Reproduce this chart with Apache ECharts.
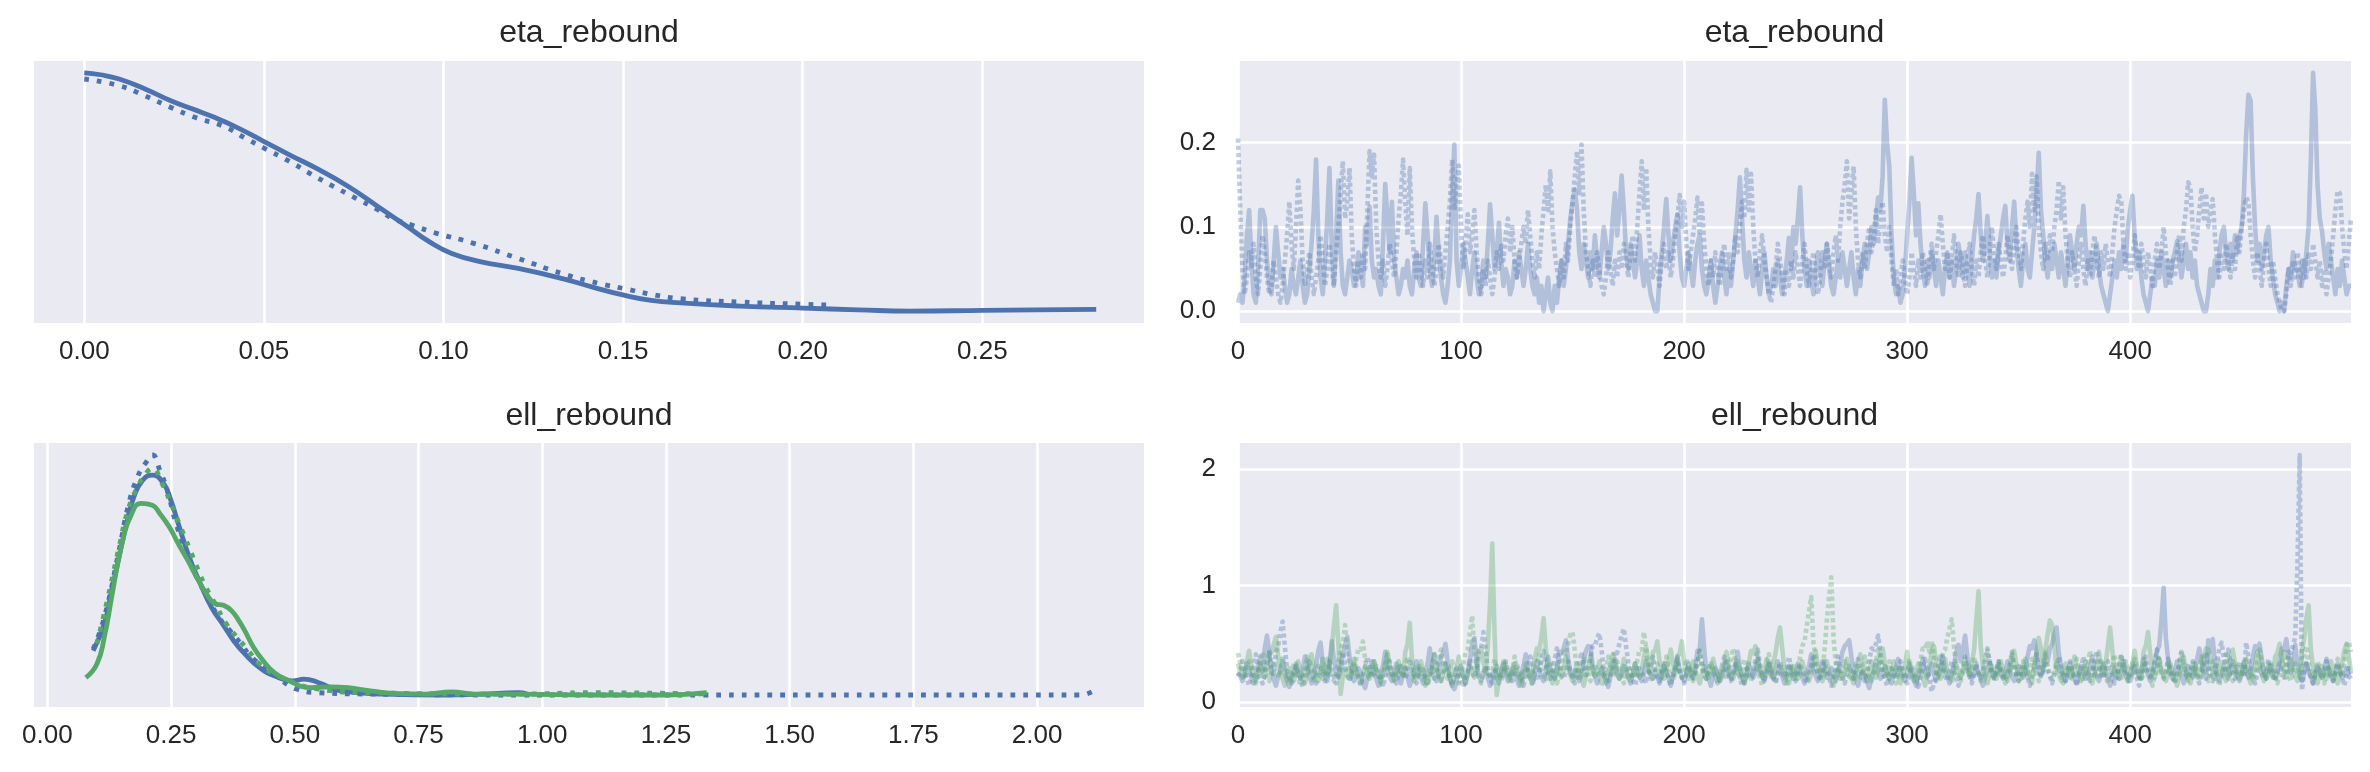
<!DOCTYPE html>
<html><head><meta charset="utf-8">
<script src="https://cdn.jsdelivr.net/npm/echarts@6/dist/echarts.min.js"></script>
<style>html,body{margin:0;padding:0;background:#fff}#c{width:2370px;height:772px}</style>
</head><body><div id="c"></div>
<script>
// ---------- titles & ticks ----------
const titles = ['eta_rebound', 'eta_rebound', 'ell_rebound', 'ell_rebound'];
const etaKdeTicks = [0, 0.05, 0.10, 0.15, 0.20, 0.25];
const ellKdeTicks = [0, 0.25, 0.5, 0.75, 1.0, 1.25, 1.5, 1.75, 2.0];
const drawTicks = [0, 100, 200, 300, 400];
const etaTraceTicks = [0, 0.1, 0.2];
const ellTraceTicks = [0, 1, 2];

// ---------- KDE: eta_rebound (chain 0 solid, chain 1 dotted) ----------
const etaKdeX0 = [0,0.0045,0.0097,0.0169,0.0241,0.0302,0.0364,0.0426,0.0498,0.057,0.0652,0.0734,0.0817,0.0899,0.096,0.1023,0.1105,0.1208,0.1331,0.1413,0.1502,0.1578,0.166,0.1825,0.2002,0.2154,0.2298,0.25,0.2648,0.2817];
const etaKdeY0 = [12.9,12.8,12.57,12.03,11.39,10.94,10.48,9.94,9.21,8.48,7.67,6.76,5.67,4.58,3.76,3.12,2.67,2.31,1.76,1.31,0.86,0.58,0.44,0.27,0.16,0.07,0.0,0.04,0.07,0.09];
const etaKdeX1 = [0,0.0097,0.0169,0.0241,0.031,0.0385,0.0446,0.0498,0.057,0.0633,0.0693,0.0755,0.0817,0.0858,0.091,0.0981,0.1084,0.1208,0.1331,0.1434,0.1502,0.1578,0.166,0.1825,0.2002,0.2072];
const etaKdeY1 = [12.57,12.21,11.66,11.03,10.48,10.03,9.39,8.85,8.12,7.40,6.76,6.12,5.49,5.03,4.67,4.21,3.67,2.85,2.03,1.49,1.22,0.91,0.67,0.49,0.37,0.33];

// ---------- KDE: ell_rebound (blue = dim 0, green = dim 1; solid chain 0, dotted chain 1) ----------
const ellKdeXA0 = [0.0926,0.115,0.1299,0.1449,0.1599,0.1748,0.1927,0.2121,0.2345,0.2495,0.2644,0.2868,0.3092,0.3316,0.354,0.3764,0.3989,0.4287,0.4586,0.496,0.5184,0.5483,0.5931,0.6827,0.8022,0.877,0.9516,0.9695];
const ellKdeYA0 = [0.97,1.56,2.29,3.02,3.76,4.34,4.71,4.82,4.64,4.27,3.76,3.02,2.44,1.92,1.56,1.19,0.90,0.60,0.42,0.31,0.35,0.27,0.09,0.02,0.0,0.02,0.05,0.02];
const ellKdeXA1 = [0.0926,0.115,0.1449,0.1629,0.1823,0.2002,0.2121,0.2271,0.242,0.26,0.2794,0.3018,0.3242,0.3466,0.369,0.3914,0.4138,0.4586,0.5035,0.5483,0.6529,0.9516,1.3251,1.6985,2.0868,2.1137];
const ellKdeYA1 = [1.01,1.70,3.17,4.12,4.78,5.11,5.26,4.93,4.49,3.76,3.17,2.58,2.14,1.70,1.41,1.12,0.82,0.46,0.13,0.05,0.02,0.0,0.0,0.0,0.0,0.09];
const ellKdeXB0 = [0.0777,0.1001,0.115,0.1299,0.1419,0.1524,0.1673,0.1897,0.2121,0.2271,0.2465,0.2644,0.2838,0.3018,0.3212,0.3391,0.357,0.372,0.3869,0.3989,0.4168,0.4362,0.4586,0.481,0.5333,0.5706,0.608,0.6529,0.7126,0.7649,0.8172,0.862,0.9516,1.101,1.2504,1.3325];
const ellKdeYB0 = [0.38,0.68,1.26,2.14,2.87,3.39,3.90,4.20,4.16,3.98,3.68,3.32,2.95,2.58,2.22,2.00,1.96,1.85,1.63,1.41,1.04,0.75,0.49,0.35,0.16,0.18,0.16,0.09,0.03,0.02,0.07,0.02,0.02,0.0,0.0,0.05];
const ellKdeXB1 = [0.1001,0.1225,0.1449,0.1629,0.1823,0.2017,0.2121,0.2316,0.2495,0.2719,0.2943,0.3167,0.3391,0.3615,0.3839,0.4063,0.4287,0.4735,0.5483,0.6529,0.9516,1.101,1.34];
const ellKdeYB1 = [1.12,2.14,3.24,4.05,4.56,4.89,4.97,4.64,4.20,3.61,3.02,2.44,2.00,1.56,1.26,0.97,0.68,0.38,0.13,0.05,0.02,0.05,0.02];

// ---------- Trace: eta_rebound, 500 draws per chain ----------
const etaTrace0 = [
.01,.02,.01,.04,.09,.12,.06,.02,.01,.05,.12,.12,.11,.06,.03,.02,.06,.10,.07,.04,.05,.03,.01,.02,.05,
.03,.02,.04,.06,.03,.01,.02,.05,.08,.12,.18,.09,.04,.02,.06,.11,.17,.08,.03,.09,.155,.07,.03,.02,.04,
.06,.05,.03,.04,.07,.05,.03,.10,.08,.124,.06,.04,.05,.03,.02,.08,.151,.11,.07,.13,.06,.04,.02,.03,.05,
.04,.06,.03,.02,.05,.07,.04,.03,.08,.128,.09,.05,.03,.06,.112,.07,.04,.02,.01,.03,.06,.14,.198,.06,.03,
.05,.08,.06,.04,.02,.05,.07,.04,.02,.03,.06,.04,.08,.127,.09,.05,.07,.105,.06,.03,.05,.04,.02,.03,.06,
.04,.07,.05,.03,.05,.08,.05,.03,.02,.04,.01,.03,.00,.02,.04,.01,.00,.03,.01,.04,.06,.03,.05,.08,.11,
.13,.145,.12,.07,.05,.08,.06,.04,.07,.05,.09,.06,.04,.07,.10,.08,.05,.07,.11,.14,.09,.12,.161,.12,.07,
.05,.08,.06,.04,.06,.09,.05,.03,.06,.04,.02,.01,.00,.00,.04,.07,.10,.133,.09,.06,.08,.10,.115,.07,.04,
.03,.05,.07,.05,.03,.06,.08,.09,.05,.03,.02,.04,.06,.03,.01,.03,.05,.07,.04,.02,.05,.03,.06,.09,.12,
.159,.11,.06,.04,.07,.05,.03,.06,.04,.02,.05,.07,.04,.02,.03,.05,.03,.06,.04,.02,.04,.06,.087,.05,.10,
.08,.11,.147,.09,.05,.03,.06,.04,.02,.05,.07,.05,.03,.06,.08,.05,.03,.02,.04,.06,.04,.07,.05,.03,.05,
.07,.04,.02,.05,.03,.06,.08,.05,.07,.10,.08,.11,.135,.12,.16,.251,.20,.172,.09,.04,.02,.03,.01,.02,.05,
.09,.13,.182,.14,.09,.128,.08,.05,.03,.06,.04,.07,.05,.03,.06,.04,.02,.05,.07,.04,.06,.03,.05,.08,.06,
.04,.07,.05,.03,.06,.09,.11,.139,.09,.06,.08,.113,.07,.04,.06,.04,.07,.09,.11,.125,.08,.06,.10,.13,.08,
.05,.03,.06,.08,.05,.04,.07,.10,.14,.188,.12,.09,.06,.04,.07,.05,.08,.06,.04,.07,.05,.03,.06,.09,.07,
.05,.08,.10,.09,.125,.08,.05,.07,.04,.06,.08,.05,.03,.02,.01,.00,.02,.04,.06,.04,.07,.05,.08,.06,.10,
.12,.137,.09,.05,.07,.04,.02,.01,.00,.02,.04,.03,.06,.04,.07,.05,.03,.06,.04,.06,.07,.083,.06,.04,.06,
.08,.05,.07,.04,.06,.03,.02,.01,.00,.00,.02,.05,.03,.06,.04,.07,.09,.10,.07,.05,.08,.06,.09,.07,.09,
.10,.14,.21,.257,.25,.16,.10,.06,.08,.05,.07,.09,.10,.06,.04,.02,.01,.00,.01,.00,.03,.05,.04,.07,.05,
.05,.03,.06,.04,.07,.10,.18,.283,.24,.15,.11,.095,.07,.05,.08,.06,.04,.02,.05,.03,.06,.04,.02,.03,.03];
const etaTrace1 = [
.205,.12,.05,.02,.04,.07,.05,.08,.04,.02,.05,.09,.07,.04,.02,.03,.06,.04,.02,.01,.03,.06,.09,.13,.08,
.05,.10,.155,.12,.06,.03,.05,.07,.04,.02,.04,.06,.09,.06,.03,.05,.08,.05,.03,.07,.10,.14,.178,.11,.13,
.17,.09,.05,.03,.06,.04,.07,.05,.12,.19,.16,.186,.10,.06,.04,.06,.03,.05,.08,.06,.04,.07,.11,.14,.18,
.13,.09,.17,.10,.06,.04,.07,.05,.03,.06,.04,.08,.05,.03,.05,.08,.06,.04,.07,.10,.13,.18,.12,.15,.173,
.10,.05,.08,.115,.07,.09,.12,.07,.04,.02,.05,.03,.06,.04,.02,.04,.07,.05,.08,.06,.09,.11,.07,.10,.06,
.04,.06,.08,.10,.08,.12,.09,.06,.04,.07,.05,.09,.12,.15,.12,.166,.10,.07,.05,.03,.06,.04,.08,.06,.10,
.13,.16,.19,.14,.198,.12,.07,.05,.03,.06,.04,.07,.05,.03,.02,.04,.07,.05,.03,.06,.04,.07,.05,.08,.06,
.04,.07,.09,.06,.10,.14,.178,.12,.17,.10,.06,.04,.07,.05,.03,.06,.08,.05,.07,.04,.06,.09,.11,.138,.10,
.13,.08,.05,.07,.09,.11,.135,.09,.128,.08,.05,.03,.06,.04,.07,.05,.03,.06,.08,.05,.07,.04,.06,.09,.07,
.10,.13,.11,.168,.12,.163,.10,.06,.04,.07,.09,.06,.04,.02,.01,.03,.05,.08,.06,.04,.02,.05,.03,.06,.04,
.07,.05,.03,.06,.08,.05,.03,.05,.07,.04,.02,.04,.07,.05,.08,.06,.04,.07,.09,.06,.10,.13,.15,.178,.11,
.14,.172,.10,.06,.04,.07,.05,.08,.10,.07,.09,.12,.08,.11,.13,.09,.07,.10,.06,.03,.05,.02,.04,.06,.04,
.02,.04,.07,.05,.03,.06,.04,.07,.05,.03,.06,.08,.05,.07,.09,.115,.08,.05,.07,.04,.06,.09,.06,.04,.07,
.05,.03,.06,.08,.05,.03,.06,.04,.07,.09,.06,.04,.07,.10,.07,.05,.08,.06,.04,.06,.09,.07,.05,.08,.10,
.07,.05,.08,.11,.13,.10,.163,.12,.16,.10,.07,.05,.08,.06,.09,.07,.10,.12,.155,.11,.147,.09,.06,.04,.07,
.05,.03,.06,.08,.05,.03,.06,.04,.07,.09,.06,.04,.07,.05,.08,.06,.04,.07,.10,.12,.137,.13,.08,.05,.07,
.04,.06,.09,.07,.05,.08,.06,.04,.07,.05,.03,.06,.08,.05,.07,.10,.07,.05,.03,.06,.04,.07,.09,.06,.10,
.12,.153,.147,.10,.07,.09,.12,.147,.11,.14,.10,.12,.133,.09,.06,.04,.07,.05,.08,.06,.04,.07,.05,.09,.07,
.10,.12,.135,.13,.09,.06,.04,.07,.05,.03,.06,.08,.05,.03,.06,.04,.02,.01,.00,.00,.02,.05,.03,.06,.04,
.07,.05,.03,.06,.04,.07,.05,.08,.06,.04,.06,.03,.05,.02,.04,.06,.09,.12,.143,.14,.10,.07,.05,.08,.11];

// ---------- Trace: ell_rebound (A = blue dim, B = green dim; 0 = chain 0 solid, 1 = chain 1 dotted) ----------
const ellTraceA0 = [
.25,.22,.18,.24,.33,.27,.21,.16,.23,.29,.39,.26,.46,.57,.43,.24,.20,.14,.22,.27,.35,.25,.18,.13,.21,
.26,.33,.24,.20,.27,.39,.29,.22,.16,.24,.31,.44,.51,.33,.23,.18,.29,.52,.37,.25,.21,.27,.41,.49,.56,
.39,.24,.18,.22,.29,.25,.16,.12,.21,.26,.35,.24,.20,.14,.23,.31,.43,.27,.22,.18,.25,.33,.23,.16,.24,
.29,.22,.14,.20,.26,.35,.25,.21,.16,.24,.33,.46,.27,.21,.18,.25,.39,.42,.50,.35,.22,.14,.11,.18,.26,
.31,.23,.16,.24,.37,.49,.55,.33,.22,.18,.25,.29,.21,.14,.23,.27,.22,.16,.26,.33,.24,.18,.22,.29,.25,
.20,.14,.23,.31,.41,.26,.21,.16,.25,.35,.27,.22,.18,.26,.39,.29,.23,.20,.27,.43,.42,.46,.53,.37,.25,
.21,.27,.24,.18,.23,.33,.44,.48,.47,.31,.22,.16,.24,.29,.23,.18,.13,.22,.27,.37,.25,.20,.23,.31,.26,
.21,.16,.24,.33,.26,.22,.18,.25,.35,.27,.23,.20,.26,.22,.16,.24,.31,.25,.21,.14,.23,.29,.39,.27,.22,
.18,.25,.33,.26,.21,.29,.44,.45,.71,.46,.25,.20,.14,.23,.29,.24,.18,.22,.27,.35,.25,.20,.24,.31,.43,
.29,.22,.16,.24,.33,.26,.21,.25,.37,.27,.22,.18,.25,.33,.24,.20,.26,.35,.27,.22,.16,.23,.31,.25,.20,
.24,.33,.26,.21,.16,.24,.31,.41,.27,.22,.18,.25,.35,.26,.21,.24,.29,.23,.18,.25,.33,.43,.48,.50,.53,
.39,.25,.20,.14,.22,.27,.23,.18,.12,.21,.26,.35,.25,.20,.24,.31,.25,.21,.16,.23,.29,.37,.26,.21,.18,
.24,.33,.25,.20,.14,.22,.27,.37,.26,.21,.25,.33,.24,.18,.23,.29,.39,.27,.22,.16,.24,.31,.43,.49,.35,
.45,.57,.39,.25,.20,.24,.31,.25,.20,.14,.22,.27,.35,.26,.21,.25,.33,.24,.20,.26,.35,.27,.22,.18,.24,
.31,.25,.21,.27,.39,.48,.46,.53,.43,.26,.22,.29,.41,.35,.46,.50,.58,.64,.42,.31,.23,.18,.25,.33,.26,
.21,.16,.24,.31,.25,.20,.23,.29,.39,.27,.22,.18,.25,.33,.26,.21,.14,.23,.29,.24,.20,.26,.35,.27,.22,
.18,.24,.31,.25,.21,.27,.37,.29,.23,.18,.25,.33,.44,.48,.70,.98,.55,.37,.24,.20,.26,.35,.27,.22,.16,
.24,.31,.25,.21,.26,.37,.46,.33,.24,.20,.53,.43,.54,.33,.23,.18,.25,.31,.24,.20,.26,.35,.27,.22,.18,
.24,.33,.26,.21,.27,.39,.48,.46,.50,.37,.25,.20,.24,.31,.25,.21,.26,.37,.46,.45,.54,.39,.25,.33,.49,
.31,.23,.18,.25,.33,.26,.22,.16,.24,.31,.25,.21,.27,.37,.27,.22,.18,.25,.33,.26,.21,.24,.29,.23,.20];
const ellTraceA1 = [
.22,.27,.35,.25,.20,.14,.23,.31,.41,.27,.21,.16,.24,.33,.44,.29,.22,.43,.48,.60,.69,.48,.27,.21,.16,
.24,.31,.25,.20,.13,.22,.27,.37,.26,.21,.16,.23,.29,.24,.18,.25,.35,.27,.22,.16,.24,.31,.43,.29,.22,
.18,.25,.33,.26,.21,.14,.22,.29,.39,.27,.21,.24,.31,.25,.20,.13,.22,.27,.35,.26,.21,.16,.24,.31,.25,
.20,.26,.37,.27,.22,.16,.24,.31,.25,.20,.14,.23,.29,.41,.29,.22,.18,.25,.33,.26,.21,.14,.23,.29,.24,
.18,.13,.22,.27,.37,.26,.21,.29,.44,.45,.60,.46,.27,.22,.16,.24,.31,.25,.20,.26,.35,.27,.22,.18,.25,
.33,.26,.21,.14,.23,.29,.39,.27,.22,.18,.25,.35,.44,.31,.23,.20,.26,.37,.46,.33,.24,.20,.26,.35,.27,
.22,.16,.24,.31,.43,.29,.23,.26,.39,.48,.48,.55,.59,.45,.27,.22,.18,.25,.33,.44,.42,.50,.57,.63,.48,
.33,.24,.20,.14,.23,.29,.25,.21,.16,.24,.31,.39,.27,.22,.18,.25,.33,.26,.21,.14,.23,.29,.37,.26,.21,
.16,.24,.31,.25,.20,.26,.35,.44,.31,.23,.20,.25,.33,.26,.22,.16,.24,.31,.39,.27,.22,.18,.25,.33,.26,
.21,.14,.23,.29,.24,.20,.26,.37,.45,.33,.24,.20,.26,.35,.27,.22,.16,.24,.33,.25,.21,.27,.39,.29,.23,
.18,.25,.33,.26,.22,.16,.24,.31,.41,.29,.23,.18,.25,.35,.26,.21,.14,.23,.29,.39,.27,.22,.16,.24,.31,
.25,.20,.26,.37,.27,.22,.18,.25,.35,.46,.45,.50,.57,.43,.26,.21,.14,.23,.29,.24,.20,.26,.35,.27,.22,
.16,.24,.31,.25,.20,.13,.22,.27,.37,.26,.21,.09,.16,.24,.31,.41,.29,.22,.18,.25,.35,.26,.21,.14,.23,
.29,.39,.27,.22,.16,.24,.33,.25,.21,.27,.37,.46,.35,.25,.20,.26,.35,.27,.22,.18,.24,.31,.43,.31,.23,
.18,.25,.33,.26,.21,.14,.23,.29,.41,.29,.22,.26,.35,.27,.22,.16,.24,.31,.39,.27,.22,.18,.25,.35,.26,
.21,.14,.23,.29,.39,.27,.22,.18,.25,.33,.44,.31,.23,.20,.26,.35,.27,.22,.16,.24,.31,.41,.29,.23,.18,
.25,.33,.26,.21,.14,.23,.29,.39,.27,.22,.26,.35,.45,.33,.24,.20,.26,.37,.27,.22,.18,.25,.33,.44,.31,
.23,.20,.26,.35,.27,.22,.16,.24,.31,.43,.29,.23,.18,.25,.35,.46,.51,.37,.25,.45,.33,.24,.20,.26,.35,
.27,.22,.51,.39,.25,.21,.16,.24,.31,.25,.20,.26,.37,.27,.22,.18,.25,.33,.26,.21,.29,.43,.42,.48,.56,
1.20,2.12,.10,.25,.33,.26,.21,.16,.24,.31,.25,.20,.26,.35,.27,.22,.18,.25,.33,.26,.21,.14,.23,.29,.24];
const ellTraceB0 = [
.33,.26,.21,.25,.35,.44,.31,.23,.18,.25,.33,.26,.21,.29,.43,.42,.49,.56,.39,.25,.20,.14,.23,.29,.24,
.18,.25,.35,.26,.21,.16,.24,.31,.41,.29,.23,.18,.26,.37,.27,.22,.33,.45,.65,.83,.50,.07,.22,.29,.24,
.20,.26,.37,.27,.22,.16,.24,.31,.25,.20,.26,.35,.27,.22,.18,.25,.33,.43,.31,.23,.20,.26,.35,.27,.22,
.43,.50,.68,.37,.24,.20,.26,.35,.27,.22,.16,.24,.31,.41,.29,.23,.18,.25,.33,.26,.21,.14,.23,.29,.39,
.27,.22,.16,.24,.31,.25,.21,.27,.37,.46,.35,.25,.48,.85,1.36,.60,.06,.20,.26,.35,.27,.22,.18,.25,.33,
.26,.21,.14,.23,.29,.24,.20,.26,.37,.46,.45,.55,.72,.46,.27,.22,.16,.24,.31,.25,.21,.27,.39,.29,.23,
.18,.25,.33,.26,.21,.14,.23,.29,.39,.27,.22,.26,.35,.27,.22,.16,.24,.31,.41,.29,.23,.20,.26,.37,.27,
.22,.18,.25,.33,.26,.21,.27,.39,.47,.33,.24,.43,.44,.52,.35,.24,.20,.26,.35,.45,.33,.24,.39,.42,.52,
.35,.24,.20,.26,.35,.27,.22,.16,.24,.31,.25,.21,.27,.37,.29,.23,.18,.25,.33,.43,.31,.23,.20,.26,.35,
.27,.22,.16,.24,.33,.44,.42,.48,.39,.25,.21,.27,.37,.27,.22,.33,.42,.55,.64,.46,.27,.22,.16,.24,.31,
.25,.20,.26,.35,.27,.22,.18,.25,.33,.44,.31,.23,.18,.25,.35,.26,.21,.14,.23,.29,.24,.20,.26,.37,.27,
.22,.16,.24,.31,.41,.29,.23,.18,.25,.35,.26,.21,.27,.39,.46,.33,.24,.20,.26,.35,.27,.22,.16,.24,.31,
.43,.29,.22,.18,.25,.33,.26,.21,.14,.23,.31,.43,.48,.35,.24,.20,.26,.37,.27,.22,.18,.25,.33,.26,.21,
.27,.37,.29,.23,.33,.45,.70,.95,.48,.29,.22,.16,.24,.31,.25,.20,.26,.35,.27,.22,.18,.25,.33,.44,.31,
.23,.20,.26,.37,.27,.22,.16,.33,.42,.55,.46,.27,.45,.58,.70,.66,.48,.29,.23,.18,.25,.33,.26,.21,.27,
.39,.29,.23,.18,.25,.35,.26,.21,.16,.24,.31,.43,.29,.23,.33,.48,.64,.44,.26,.21,.27,.39,.29,.23,.18,
.25,.33,.44,.31,.23,.20,.43,.48,.60,.41,.25,.21,.27,.37,.27,.22,.18,.25,.33,.26,.21,.14,.23,.29,.39,
.27,.22,.16,.24,.33,.25,.21,.27,.39,.46,.45,.35,.24,.20,.26,.35,.27,.22,.18,.25,.37,.45,.33,.24,.20,
.26,.35,.27,.22,.16,.24,.31,.43,.31,.23,.18,.25,.33,.26,.21,.39,.42,.50,.37,.25,.21,.27,.37,.27,.22,
.18,.25,.43,.55,.72,.83,.45,.29,.22,.16,.24,.31,.25,.20,.26,.35,.27,.22,.16,.24,.33,.44,.50,.39,.26];
const ellTraceB1 = [
.42,.33,.24,.20,.26,.35,.27,.22,.16,.24,.31,.43,.29,.23,.18,.25,.33,.26,.21,.27,.39,.29,.23,.18,.25,
.33,.26,.21,.14,.23,.29,.39,.27,.22,.16,.24,.31,.25,.20,.26,.37,.27,.22,.18,.25,.35,.46,.50,.66,.43,
.25,.21,.27,.37,.46,.45,.52,.37,.24,.20,.26,.35,.27,.22,.16,.24,.31,.41,.29,.23,.18,.25,.33,.26,.21,
.27,.39,.29,.23,.18,.25,.33,.26,.21,.14,.23,.29,.24,.20,.26,.35,.45,.33,.24,.20,.26,.35,.27,.22,.16,
.24,.31,.43,.45,.60,.74,.42,.29,.22,.16,.24,.31,.25,.20,.26,.37,.27,.22,.18,.25,.33,.26,.21,.27,.39,
.29,.23,.18,.25,.33,.26,.21,.14,.23,.29,.41,.29,.22,.18,.25,.35,.27,.22,.16,.24,.31,.43,.42,.50,.58,
.60,.44,.26,.21,.27,.37,.29,.23,.18,.25,.33,.26,.21,.14,.23,.29,.39,.27,.22,.26,.35,.27,.22,.16,.24,
.31,.25,.20,.26,.35,.45,.45,.60,.46,.27,.22,.18,.25,.33,.26,.21,.27,.39,.29,.23,.18,.25,.33,.26,.21,
.27,.37,.29,.23,.18,.25,.33,.44,.31,.23,.20,.26,.35,.27,.22,.16,.24,.31,.25,.20,.26,.37,.46,.35,.25,
.21,.27,.37,.29,.23,.18,.25,.33,.26,.21,.14,.23,.29,.41,.29,.22,.18,.25,.35,.27,.22,.16,.24,.31,.25,
.20,.26,.39,.48,.52,.65,.78,.90,.50,.37,.25,.21,.27,.45,.70,.90,1.07,.55,.33,.24,.20,.26,.35,.27,.22,
.18,.25,.33,.26,.21,.27,.39,.29,.23,.18,.25,.35,.45,.33,.24,.20,.26,.35,.27,.22,.16,.24,.31,.25,.20,
.26,.37,.27,.22,.18,.25,.35,.46,.45,.52,.43,.52,.39,.25,.21,.27,.43,.45,.55,.63,.71,.48,.29,.22,.18,
.25,.33,.26,.21,.27,.39,.29,.23,.18,.25,.33,.44,.31,.23,.20,.26,.35,.27,.22,.16,.24,.31,.41,.29,.23,
.18,.25,.35,.26,.21,.27,.37,.29,.23,.18,.25,.33,.43,.31,.23,.20,.26,.35,.27,.22,.16,.24,.31,.25,.20,
.26,.37,.27,.22,.18,.25,.33,.44,.31,.23,.20,.26,.35,.27,.22,.16,.24,.31,.41,.29,.23,.18,.25,.35,.26,
.21,.27,.37,.29,.23,.18,.25,.33,.26,.21,.14,.23,.29,.39,.27,.22,.26,.35,.27,.22,.16,.24,.31,.43,.29,
.23,.18,.25,.33,.26,.21,.27,.39,.29,.23,.18,.25,.35,.26,.21,.14,.23,.29,.41,.29,.22,.18,.25,.33,.26,
.21,.27,.37,.29,.23,.18,.25,.35,.45,.33,.24,.20,.26,.35,.27,.22,.16,.24,.31,.43,.29,.23,.18,.25,.33,
.26,.21,.27,.39,.48,.33,.24,.20,.26,.35,.27,.22,.16,.24,.31,.25,.20,.26,.37,.27,.22,.33,.48,.52,.43];

// ---------- styling ----------
const BLUE = '#4C72B0', GREEN = '#55A868', BG = '#EAEAF2', TXT = '#262626';
const FONT = '"Liberation Sans", Arial, sans-serif';
const grids = [
  {left: 34, top: 61, width: 1110, height: 262},
  {left: 1238, top: 61, width: 1113, height: 262},
  {left: 34, top: 443, width: 1110, height: 264},
  {left: 1238, top: 443, width: 1113, height: 264}
].map(g => Object.assign({show: true, backgroundColor: BG, borderWidth: 0, containLabel: false}, g));

function axis(gi, min, max, ticks, fmt, isY) {
  return {
    type: 'value', gridIndex: gi, min: min, max: max,
    axisLine: {show: false},
    axisTick: {show: false, customValues: ticks},
    axisLabel: {show: true, customValues: ticks, formatter: fmt, color: TXT, fontSize: 26, fontFamily: FONT, margin: isY ? 22 : 16},
    splitLine: {show: true, lineStyle: {color: '#FFFFFF', width: 2.6}}
  };
}
function hiddenY(gi, min, max) {
  return {type: 'value', gridIndex: gi, min: min, max: max, show: false, splitLine: {show: false}};
}
const xAxes = [
  axis(0, -0.014, 0.295, etaKdeTicks, v => v.toFixed(2)),
  axis(1, 0, 499, drawTicks, v => String(v)),
  axis(2, -0.027, 2.216, ellKdeTicks, v => v.toFixed(2)),
  axis(3, 0, 499, drawTicks, v => String(v))
];
const yAxes = [
  hiddenY(0, -0.645, 13.545),
  axis(1, -0.0141, 0.2971, etaTraceTicks, v => v.toFixed(1), true),
  hiddenY(2, -0.263, 5.523),
  axis(3, -0.043, 2.223, ellTraceTicks, v => String(v), true)
];
const zip = (xs, ys) => xs.map((x, i) => [x, ys[i]]);
const idx = arr => arr.map((v, i) => [i, v]);

function kde(gi, xs, ys, color, dotted) {
  return {type: 'line', xAxisIndex: gi, yAxisIndex: gi, data: zip(xs, ys), symbol: 'none', smooth: 0.5,
    lineStyle: {color: color, width: 4.8, type: dotted ? [4.8, 8] : 'solid', cap: 'butt', join: 'round'}, z: 3};
}
function trace(gi, arr, color, dotted) {
  return {type: 'line', xAxisIndex: gi, yAxisIndex: gi, data: idx(arr), symbol: 'none', sampling: null,
    lineStyle: {color: color, width: 4.6, opacity: 0.35, type: dotted ? [4.2, 3] : 'solid', cap: 'butt', join: 'round'}, z: 3};
}

const series = [
  kde(0, etaKdeX0, etaKdeY0, BLUE, false),
  kde(0, etaKdeX1, etaKdeY1, BLUE, true),
  trace(1, etaTrace0, BLUE, false),
  trace(1, etaTrace1, BLUE, true),
  kde(2, ellKdeXA0, ellKdeYA0, BLUE, false),
  kde(2, ellKdeXA1, ellKdeYA1, BLUE, true),
  kde(2, ellKdeXB0, ellKdeYB0, GREEN, false),
  kde(2, ellKdeXB1, ellKdeYB1, GREEN, true),
  trace(3, ellTraceA0, BLUE, false),
  trace(3, ellTraceA1, BLUE, true),
  trace(3, ellTraceB0, GREEN, false),
  trace(3, ellTraceB1, GREEN, true)
];

const titlePos = [[589, 33], [1794.5, 33], [589, 416], [1794.5, 416]];
const graphic = titles.map((t, i) => ({
  type: 'text', x: titlePos[i][0], y: titlePos[i][1], silent: true,
  style: {text: t, fill: TXT, font: '32px ' + FONT, align: 'center', verticalAlign: 'middle', textAlign: 'center', textVerticalAlign: 'middle'}
}));

const chart = echarts.init(document.getElementById('c'), null, {renderer: 'canvas'});
chart.setOption({
  animation: false,
  backgroundColor: '#FFFFFF',
  grid: grids,
  xAxis: xAxes,
  yAxis: yAxes,
  series: series,
  graphic: graphic
});
</script>
</body></html>
